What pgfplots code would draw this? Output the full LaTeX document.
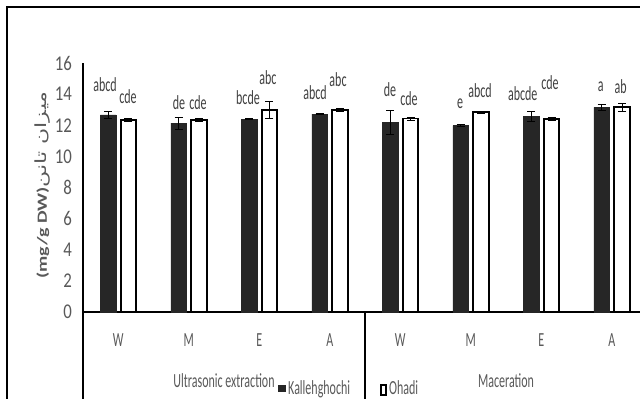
\documentclass[border=0pt]{standalone}
\usepackage{pgfplots}
\pgfplotsset{compat=1.18}
\usepackage{fontspec}
\setmainfont{Carlito}[FakeStretch=0.6]
\newfontfamily\tickfont{Carlito}[FakeStretch=0.8]
\newfontfamily\plainfont{Carlito}
\newfontfamily\arabicfont[Script=Arabic]{DejaVu Sans}
\TeXXeTstate=1
\definecolor{txt}{HTML}{595959}
\definecolor{lett}{HTML}{404040}
\definecolor{kal}{HTML}{262626}
\begin{document}
\begin{tikzpicture}[font=\fontsize{20bp}{24bp}\selectfont]
\useasboundingbox (0,0) rectangle (640bp,399bp);
\clip (0,0) rectangle (640bp,399bp);
\draw[line width=2bp] (7bp,-5bp) -- (7bp,392bp) -- (660bp,392bp);
\begin{axis}[
  at={(83bp,87bp)}, anchor=south west, scale only axis,
  width=557bp, height=249bp,
  xmin=-0.5, xmax=7.4, ymin=0, ymax=16,
  axis lines*=left,
  axis line style={black, line width=1.5bp},
  ytick={0,2,...,16},
  xtick=\empty,
  major tick length=0pt,
  /pgf/number format/assume math mode=true,
  yticklabel style={font=\tickfont\fontsize{21bp}{24bp}\selectfont, text=txt, inner sep=0pt, xshift=-11bp},
  clip=false,
  bar width=0.22,
]
\addplot[ybar, bar shift=0, fill=kal, draw=kal,
  error bars/.cd, y dir=both, y explicit,
  error bar style={draw=black, line width=1bp},
  error mark options={rotate=90, mark size=4bp, draw=black, line width=1bp}]
  coordinates {
  (-0.145,12.66) +- (0,0.20)
  (0.855,12.13) +- (0,0.40)
  (1.855,12.40) +- (0,0.05)
  (2.855,12.72) +- (0,0.05)
  (3.855,12.19) +- (0,0.78)
  (4.855,11.98) +- (0,0.05)
  (5.855,12.55) +- (0,0.32)
  (6.855,13.15) +- (0,0.18)
  };
\addplot[ybar, bar shift=0, fill=white, draw=black, line width=1.8bp,
  error bars/.cd, y dir=both, y explicit,
  error bar style={draw=black, line width=1bp},
  error mark options={rotate=90, mark size=4bp, draw=black, line width=1bp}]
  coordinates {
  (0.145,12.34) +- (0,0.10)
  (1.145,12.34) +- (0,0.10)
  (2.145,12.98) +- (0,0.53)
  (3.145,12.98) +- (0,0.10)
  (4.145,12.43) +- (0,0.10)
  (5.145,12.83) +- (0,0.05)
  (6.145,12.40) +- (0,0.07)
  (7.145,13.15) +- (0,0.27)
  };
% significance letters
\begin{scope}[every node/.style={text=lett, inner sep=0pt}]
\node at (axis cs:-0.188,14.59) {abcd};
\node at (axis cs:0.138,13.83) {cde};
\node at (axis cs:0.862,13.45) {de};
\node at (axis cs:1.131,13.45) {cde};
\node at (axis cs:1.840,13.80) {bcde};
\node at (axis cs:2.124,15.08) {abc};
\node at (axis cs:2.791,14.12) {abcd};
\node at (axis cs:3.117,14.91) {abc};
\node at (axis cs:3.855,14.31) {de};
\node at (axis cs:4.124,13.73) {cde};
\node at (axis cs:4.848,13.37) {e};
\node at (axis cs:5.131,14.22) {abcd};
\node at (axis cs:5.737,14.01) {abcde};
\node at (axis cs:6.124,14.73) {cde};
\node at (axis cs:6.843,14.48) {a};
\node at (axis cs:7.127,14.48) {ab};
\end{scope}
% category labels
\begin{scope}[every node/.style={text=txt, inner sep=0pt}]
\node at (axis cs:0,-1.8) {W};
\node at (axis cs:1,-1.8) {M};
\node at (axis cs:2,-1.8) {E};
\node at (axis cs:3,-1.8) {A};
\node at (axis cs:4,-1.8) {W};
\node at (axis cs:5,-1.8) {M};
\node at (axis cs:6,-1.8) {E};
\node at (axis cs:7,-1.8) {A};
\end{scope}
\draw[line width=1.5bp] (axis cs:-0.5,0) -- (axis cs:-0.5,-6.5);
\draw[line width=1.5bp] (axis cs:3.5,0) -- (axis cs:3.5,-6.5);
\end{axis}
% group labels
\node[text=txt, anchor=base, inner sep=0pt] at (224bp,12bp) {Ultrasonic extraction};
\node[text=txt, anchor=base, inner sep=0pt] at (506bp,12bp) {Maceration};
% legend
\fill[kal] (278bp,7bp) rectangle (286bp,14bp);
\node[text=txt, anchor=base west, inner sep=0pt] at (288bp,5bp) {Kallehghochi};
\draw[black, line width=2bp, fill=white] (381bp,4bp) rectangle (386bp,14bp);
\node[text=txt, anchor=base west, inner sep=0pt] at (389bp,5bp) {Ohadi};
% y label
\node[text=txt, inner sep=0pt] at (43bp,214bp) {\rotatebox{90}{\scalebox{1}[0.7]{{\plainfont\bfseries (mg/g DW)}{\arabicfont\fontsize{22bp}{24bp}\selectfont\beginR میزان تانن\endR}}}};
\end{tikzpicture}
\end{document}
